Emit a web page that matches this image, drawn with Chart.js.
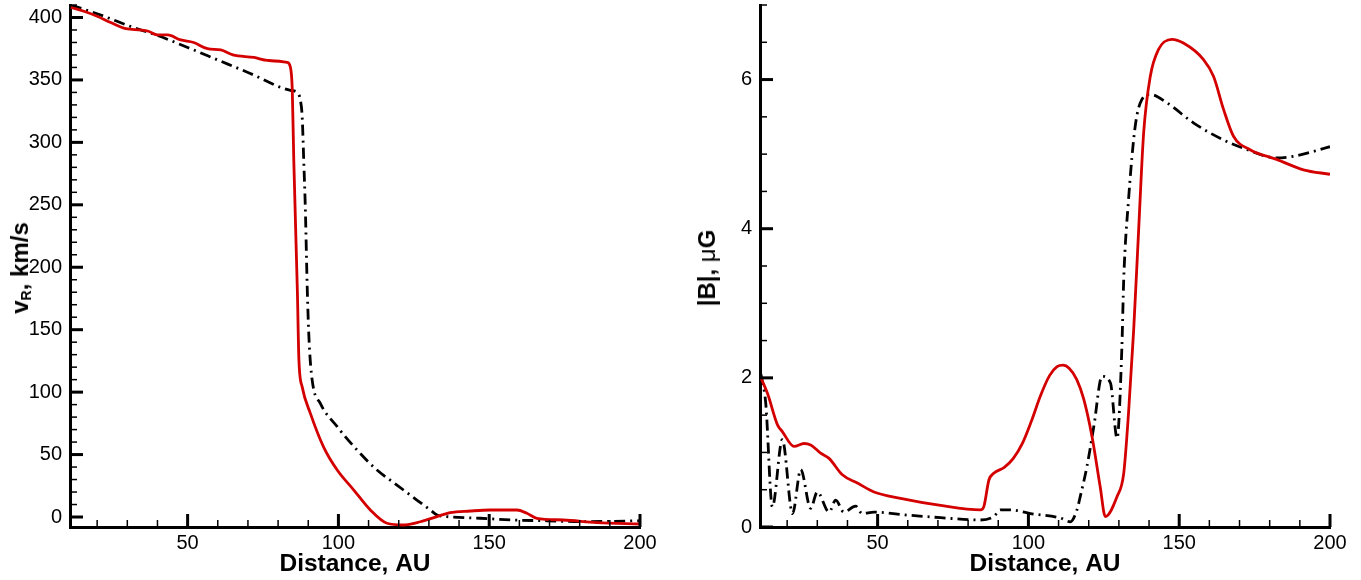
<!DOCTYPE html>
<html>
<head>
<meta charset="utf-8">
<script src="https://cdn.jsdelivr.net/npm/chart.js@4.4.0/dist/chart.umd.min.js"></script>
<style>
  html, body { margin: 0; padding: 0; background: #fff; }
  #wrap { position: relative; width: 1361px; height: 580px; overflow: hidden; font-family: 'Liberation Sans', Arial, sans-serif; }
  .panel { position: absolute; top: 0; height: 580px; }
  .ytitle { position: absolute; font-weight: bold; font-size: 24px; white-space: nowrap; color: #000;
            transform: translate(-50%, -50%) rotate(-90deg); }
  .ytitle sub { font-size: 14px; vertical-align: -3px; }
  .ytitle .mu { font-weight: normal; }
</style>
</head>
<body>
<div id="wrap">
  <div class="panel" style="left:0;width:680px"><canvas id="vrChart"></canvas></div>
  <div class="panel" style="left:680px;width:681px"><canvas id="bChart"></canvas></div>
  <div class="ytitle" style="left:20px;top:268px">v<sub>R</sub>, km/s</div>
  <div class="ytitle" style="left:707px;top:268px">|B|, <span class="mu">μ</span>G</div>
</div>
<script>
// left panel: radial velocity
const vrRedX = [11.3, 15.6, 20, 24.5, 29.5, 34.4, 37, 40, 43.4, 47.7, 52, 56.6, 61, 65, 72, 76.5, 83, 84.1, 84.7, 85.2, 86.4, 86.9, 88, 90.7, 95.1, 99.6, 105.1, 110.6, 116.1, 121.6, 127.2, 132.7, 137, 143.7, 150.3, 159.2, 162.5, 165.8, 174.6, 185.7, 200];
const vrRedY = [408, 405, 401, 396, 391, 390, 389, 386, 386, 382, 380, 375, 374, 370, 368, 365.6, 364, 360, 342, 286, 180, 126, 104, 83, 56, 37.6, 21.6, 5.6, -5, -6.4, -3.8, 0.3, 3.5, 4.8, 5.6, 5.6, 3, -1, -2.4, -4.5, -5.6];
const vrBlackX = [11.3, 20, 32, 40, 50, 60, 70, 84.1, 86.3, 87.4, 88, 88.5, 89, 89.7, 90.3, 91.3, 94, 99.6, 106.2, 112.8, 119.4, 126, 130.5, 132.7, 136, 147, 158, 169, 180, 190, 200];
const vrBlackY = [410, 403, 392, 385.6, 376, 366, 356, 341.6, 340, 333.6, 320, 285.6, 250, 180, 140, 109.6, 91, 72.3, 53.6, 37.6, 25.6, 13.6, 5.6, 1.6, 0.3, -1, -2.4, -3, -3.7, -3.5, -3];

// right panel: field magnitude
const bRedX = [11.3, 13.5, 16.8, 18.4, 22.3, 25.6, 27.8, 31.1, 33.9, 38.3, 43.3, 48.8, 57.6, 70.9, 84.1, 85.2, 86.9, 88.5, 92, 95, 98, 101, 104, 107, 109.5, 111.5, 113.5, 116, 118.3, 121.1, 123.8, 125.5, 129.4, 131.6, 133.2, 134.9, 136.5, 138.2, 140.4, 143.1, 147.6, 151.4, 158, 161.4, 164.7, 168, 173.5, 182.3, 191.2, 200];
const bRedY = [2.0, 1.79, 1.37, 1.28, 1.08, 1.12, 1.10, 0.99, 0.92, 0.70, 0.59, 0.47, 0.385, 0.29, 0.23, 0.27, 0.63, 0.72, 0.80, 0.92, 1.12, 1.42, 1.76, 2.03, 2.15, 2.17, 2.13, 1.98, 1.72, 1.21, 0.54, 0.14, 0.41, 0.72, 1.53, 2.64, 3.94, 5.28, 6.04, 6.40, 6.54, 6.49, 6.27, 6.04, 5.60, 5.24, 5.06, 4.93, 4.79, 4.73];
const bBlackX = [11.3, 12.9, 15.1, 18.4, 21.8, 24.5, 27.8, 30, 33.9, 36.1, 38.8, 42.7, 44.9, 48.8, 59.8, 70.9, 84.1, 88.5, 90.7, 94, 100.7, 110.6, 113.9, 116.1, 117.2, 119.4, 121.7, 124.4, 127.2, 129.4, 131, 131.6, 133.2, 135.4, 137.6, 140.4, 145.9, 154.7, 164.7, 171.3, 182.3, 187.8, 200];
const bBlackY = [2.05, 1.66, 0.27, 1.17, 0.18, 0.77, 0.25, 0.47, 0.2, 0.36, 0.2, 0.28, 0.18, 0.2, 0.16, 0.125, 0.094, 0.14, 0.23, 0.23, 0.18, 0.12, 0.07, 0.23, 0.41, 0.81, 1.35, 2.02, 1.93, 1.19, 2.42, 3.32, 4.39, 5.37, 5.73, 5.80, 5.69, 5.42, 5.19, 5.08, 4.95, 4.97, 5.10];

const xTitle = 'Distance, AU';
const xRange = [11, 200];
const vrRange = [-8, 410];
const bRange = [0, 7];

const RED = '#d40000';
const FONT = "'Liberation Sans', Arial, Helvetica, sans-serif";

const pts = (xs, ys) => xs.map((x, i) => ({ x, y: ys[i] }));

// ticks point inward, like the original plot
const innerTicks = {
  id: 'innerTicks',
  afterDraw(chart, args, o) {
    const { ctx, chartArea: a, scales: { x, y } } = chart;
    ctx.save();
    ctx.strokeStyle = '#000';
    const mark = (scale, step, len, w) => {
      ctx.lineWidth = w;
      const start = Math.ceil(scale.min / step - 1e-9) * step;
      for (let v = start; v <= scale.max + 1e-9; v += step) {
        const p = scale.getPixelForValue(v);
        ctx.beginPath();
        if (scale.axis === 'x') { ctx.moveTo(p, a.bottom); ctx.lineTo(p, a.bottom - len); }
        else { ctx.moveTo(a.left, p); ctx.lineTo(a.left + len, p); }
        ctx.stroke();
      }
    };
    mark(x, o.xMinor, 7, 1.5); mark(x, o.xMajor, 13, 3);
    mark(y, o.yMinor, 7, 1.5); mark(y, o.yMajor, 13, 3);
    ctx.restore();
  }
};

function makeChart(id, red, black, yRange, yStep, yMinor, yWidth, padRight) {
  const ctx = document.getElementById(id).getContext('2d');
  return new Chart(ctx, {
    type: 'line',
    data: {
      datasets: [
        { data: red, borderColor: RED, borderWidth: 2.8, pointRadius: 0, cubicInterpolationMode: 'monotone', fill: false },
        { data: black, borderColor: '#000', borderWidth: 2.8, borderDash: [11, 5, 2, 5], pointRadius: 0, cubicInterpolationMode: 'monotone', fill: false }
      ]
    },
    options: {
      responsive: true, maintainAspectRatio: false, animation: false,
      layout: { padding: { top: 5, right: padRight, left: 0, bottom: 0 } },
      plugins: {
        legend: { display: false }, tooltip: { enabled: false },
        innerTicks: { xMajor: 50, xMinor: 10, yMajor: yStep, yMinor: yMinor }
      },
      scales: {
        x: {
          type: 'linear', min: xRange[0], max: xRange[1],
          grid: { display: false, drawTicks: false },
          border: { display: true, color: '#000', width: 3 },
          ticks: { stepSize: 50, includeBounds: false, padding: 4, color: '#000', font: { family: FONT, size: 20 }, maxRotation: 0 },
          title: { display: true, text: xTitle, color: '#000', padding: { top: 0, bottom: 1 }, font: { family: FONT, size: 24.5, weight: 'bold' } },
          afterFit: s => { s.height = 53; s.paddingLeft = 0; s.paddingRight = 0; }
        },
        y: {
          type: 'linear', min: yRange[0], max: yRange[1],
          grid: { display: false, drawTicks: false },
          border: { display: true, color: '#000', width: 3 },
          ticks: { stepSize: yStep, includeBounds: false, padding: 8, color: '#000', font: { family: FONT, size: 20 } },
          afterFit: s => { s.width = yWidth; s.paddingTop = 0; s.paddingBottom = 0; }
        }
      }
    },
    plugins: [innerTicks]
  });
}

makeChart('vrChart', pts(vrRedX, vrRedY), pts(vrBlackX, vrBlackY), vrRange, 50, 10, 70, 40);
makeChart('bChart', pts(bRedX, bRedY), pts(bBlackX, bBlackY), bRange, 2, 0.5, 80, 31);
</script>
</body>
</html>
